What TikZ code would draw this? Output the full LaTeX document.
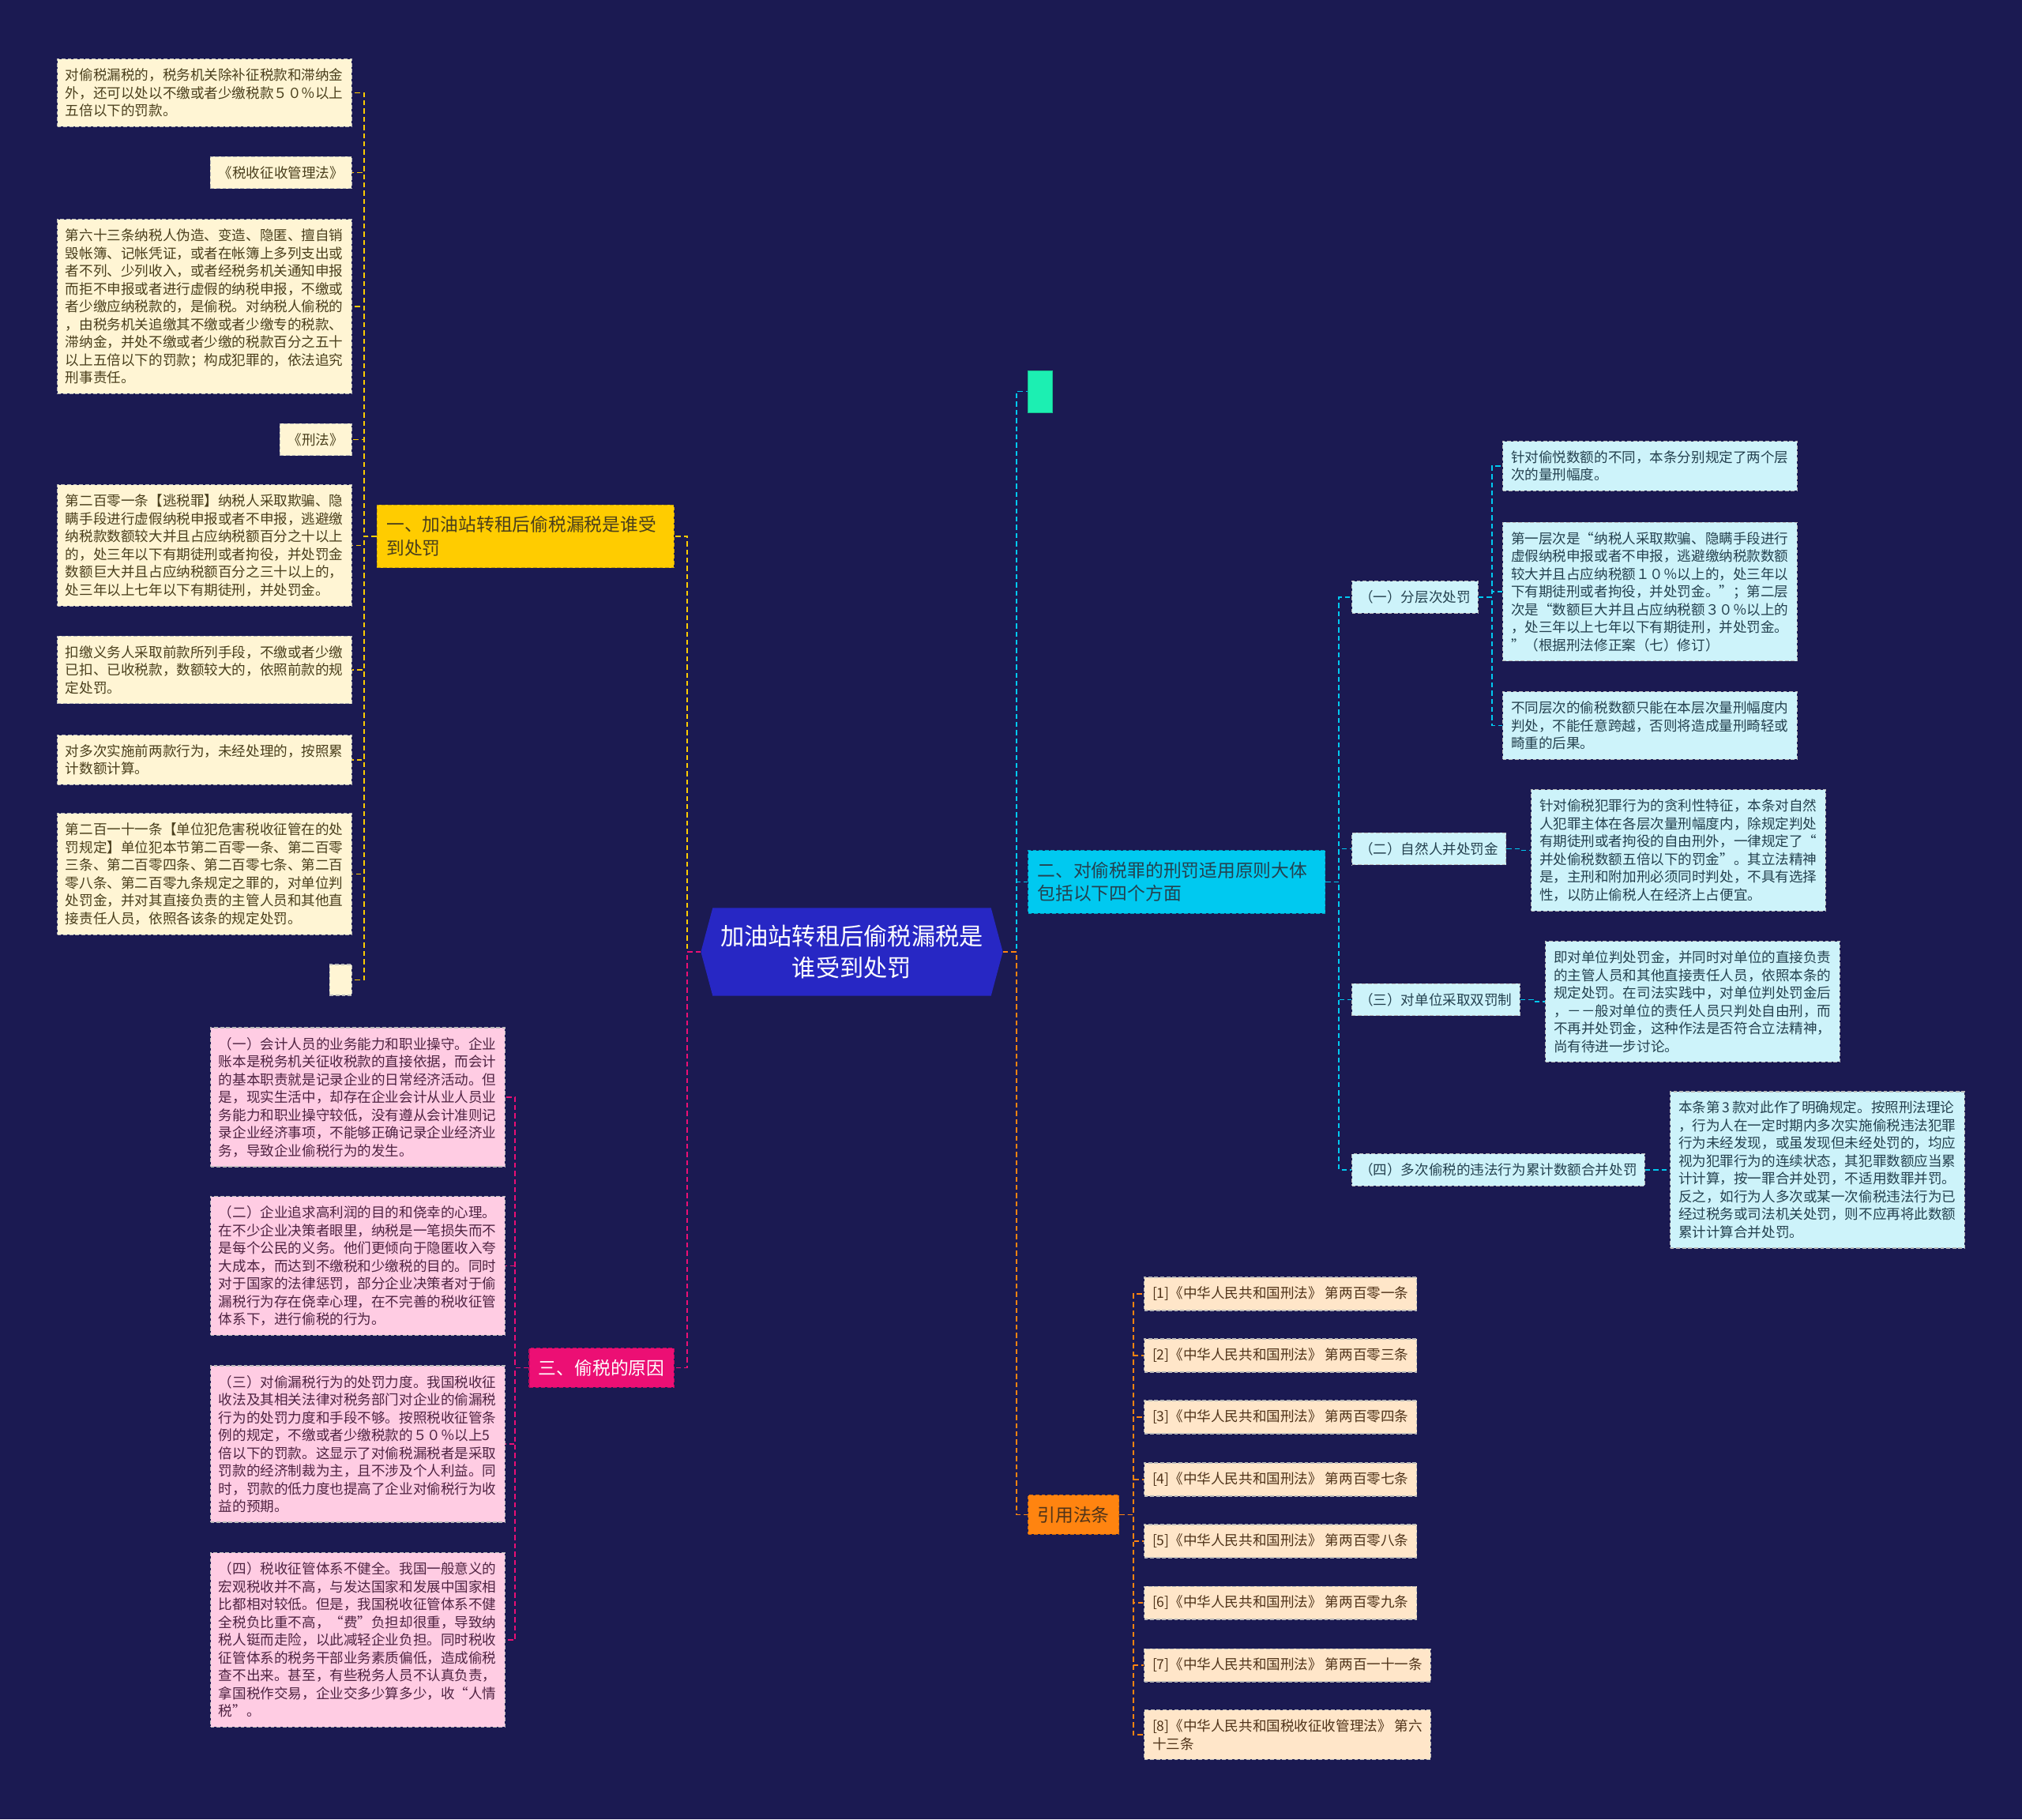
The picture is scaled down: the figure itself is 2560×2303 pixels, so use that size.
\documentclass[tikz,border=0pt]{standalone}
\usepackage{fontspec}
\setmainfont{Noto Sans CJK SC}
\usetikzlibrary{shapes.symbols}
\definecolor{bgnavy}{HTML}{1B1A52}
\definecolor{hubblue}{HTML}{2727C4}
\definecolor{ybranch}{HTML}{FFCC00}
\definecolor{pbranch}{HTML}{EC0F74}
\definecolor{cbranch}{HTML}{00C9F0}
\definecolor{obranch}{HTML}{FF8410}
\definecolor{tealbox}{HTML}{1CEFB2}
\definecolor{yfill}{HTML}{FFF5D4}
\definecolor{ytext}{HTML}{4A3F1C}
\definecolor{pfill}{HTML}{FFCCE3}
\definecolor{ptext}{HTML}{4F2342}
\definecolor{cfill}{HTML}{CDF3FA}
\definecolor{ctext}{HTML}{24414F}
\definecolor{rfill}{HTML}{FFE6C9}
\definecolor{rtext}{HTML}{4F3319}
\begin{document}
\begin{tikzpicture}[
    x=0.25mm, y=-0.25mm,
    every node/.style={font=\fontsize{12.5pt}{16pt}\selectfont},
    leafbox/.style={draw=gray!55, line width=0.3mm, dash pattern=on 1.2mm off 0.7mm, inner xsep=2.6mm, inner ysep=3mm, align=left},
    wide/.style={text width=88mm},
    yleaf/.style={leafbox, fill=yfill, text=ytext, anchor=east},
    pleaf/.style={leafbox, wide, fill=pfill, text=ptext, anchor=east},
    cleaf/.style={leafbox, fill=cfill, text=ctext, anchor=west},
    rleaf/.style={leafbox, fill=rfill, text=rtext, anchor=west},
    branch/.style={draw=#1!80!black, fill=#1, line width=0.3mm, dash pattern=on 1.2mm off 0.7mm, inner xsep=3mm, inner ysep=3.6mm, align=left, font=\fontsize{16.2pt}{21pt}\selectfont},
    hub/.style={signal, signal to=west and east, signal pointer angle=150, fill=hubblue, text=white, align=center, inner xsep=2.5mm, inner ysep=5.3mm, font=\fontsize{21.5pt}{29pt}\selectfont},
    link/.style={draw=#1, line width=0.45mm, dash pattern=on 1.6mm off 1mm}
  ]
  \path[use as bounding box, fill=bgnavy] (0,0) rectangle (2560,2303);

  \node[hub] (hub) at (1078.5,1205) {加油站转租后偷税漏税是\\谁受到处罚};

  % left: branch one
  \node[branch=ybranch, text=ytext, wide, anchor=east] (b1) at (854,679) {一、加油站转租后偷税漏税是谁受\\到处罚};
  \node[yleaf, wide] (l1) at (446,117.5) {对偷税漏税的，税务机关除补征税款和滞纳金\\外，还可以处以不缴或者少缴税款５０％以上\\五倍以下的罚款。};
  \node[yleaf] (l2) at (446,218.5) {《税收征收管理法》};
  \node[yleaf, wide] (l3) at (446,388) {第六十三条纳税人伪造、变造、隐匿、擅自销\\毁帐簿、记帐凭证，或者在帐簿上多列支出或\\者不列、少列收入，或者经税务机关通知申报\\而拒不申报或者进行虚假的纳税申报，不缴或\\者少缴应纳税款的，是偷税。对纳税人偷税的\\，由税务机关追缴其不缴或者少缴专的税款、\\滞纳金，并处不缴或者少缴的税款百分之五十\\以上五倍以下的罚款；构成犯罪的，依法追究\\刑事责任。};
  \node[yleaf] (l4) at (446,556.5) {《刑法》};
  \node[yleaf, wide] (l5) at (446,690.5) {第二百零一条【逃税罪】纳税人采取欺骗、隐\\瞒手段进行虚假纳税申报或者不申报，逃避缴\\纳税款数额较大并且占应纳税额百分之十以上\\的，处三年以下有期徒刑或者拘役，并处罚金\\数额巨大并且占应纳税额百分之三十以上的，\\处三年以上七年以下有期徒刑，并处罚金。};
  \node[yleaf, wide] (l6) at (446,848) {扣缴义务人采取前款所列手段，不缴或者少缴\\已扣、已收税款，数额较大的，依照前款的规\\定处罚。};
  \node[yleaf, wide] (l7) at (446,962) {对多次实施前两款行为，未经处理的，按照累\\计数额计算。};
  \node[yleaf, wide] (l8) at (446,1106.5) {第二百一十一条【单位犯危害税收征管在的处\\罚规定】单位犯本节第二百零一条、第二百零\\三条、第二百零四条、第二百零七条、第二百\\零八条、第二百零九条规定之罪的，对单位判\\处罚金，并对其直接负责的主管人员和其他直\\接责任人员，依照各该条的规定处罚。};
  \node[yleaf, minimum width=7mm, minimum height=9.75mm, inner sep=0pt] (l9) at (446,1240.5) {};

  % left: branch three
  \node[branch=pbranch, text=white, anchor=east] (b3) at (854,1731.5) {三、偷税的原因};
  \node[pleaf] (p1) at (640,1389) {（一）会计人员的业务能力和职业操守。企业\\账本是税务机关征收税款的直接依据，而会计\\的基本职责就是记录企业的日常经济活动。但\\是，现实生活中，却存在企业会计从业人员业\\务能力和职业操守较低，没有遵从会计准则记\\录企业经济事项，不能够正确记录企业经济业\\务，导致企业偷税行为的发生。};
  \node[pleaf] (p2) at (640,1602.5) {（二）企业追求高利润的目的和侥幸的心理。\\在不少企业决策者眼里，纳税是一笔损失而不\\是每个公民的义务。他们更倾向于隐匿收入夸\\大成本，而达到不缴税和少缴税的目的。同时\\对于国家的法律惩罚，部分企业决策者对于偷\\漏税行为存在侥幸心理，在不完善的税收征管\\体系下，进行偷税的行为。};
  \node[pleaf] (p3) at (640,1828) {（三）对偷漏税行为的处罚力度。我国税收征\\收法及其相关法律对税务部门对企业的偷漏税\\行为的处罚力度和手段不够。按照税收征管条\\例的规定，不缴或者少缴税款的５０％以上5\\倍以下的罚款。这显示了对偷税漏税者是采取\\罚款的经济制裁为主，且不涉及个人利益。同\\时，罚款的低力度也提高了企业对偷税行为收\\益的预期。};
  \node[pleaf] (p4) at (640,2076) {（四）税收征管体系不健全。我国一般意义的\\宏观税收并不高，与发达国家和发展中国家相\\比都相对较低。但是，我国税收征管体系不健\\全税负比重不高，“费”负担却很重，导致纳\\税人铤而走险，以此减轻企业负担。同时税收\\征管体系的税务干部业务素质偏低，造成偷税\\查不出来。甚至，有些税务人员不认真负责，\\拿国税作交易，企业交多少算多少，收“人情\\税”。};

  % right: branch two
  \node[draw=tealbox!80!black, fill=tealbox, minimum width=7.75mm, minimum height=13.25mm, inner sep=0pt] (tl) at (1316.5,495.5) {};
  \node[branch=cbranch, text=ctext, wide, anchor=west] (b2) at (1301,1116.5) {二、对偷税罪的刑罚适用原则大体\\包括以下四个方面};
  \node[cleaf, inner xsep=2.4mm] (s1) at (1711,756) {（一）分层次处罚};
  \node[cleaf, inner xsep=2.4mm] (s2) at (1711,1074.5) {（二）自然人并处罚金};
  \node[cleaf, inner xsep=2.4mm] (s3) at (1711,1265.5) {（三）对单位采取双罚制};
  \node[cleaf, inner xsep=2.4mm] (s4) at (1711,1481) {（四）多次偷税的违法行为累计数额合并处罚};
  \node[cleaf, wide] (s1a) at (1902,590) {针对偷悦数额的不同，本条分别规定了两个层\\次的量刑幅度。};
  \node[cleaf, wide] (s1b) at (1902,749) {第一层次是“纳税人采取欺骗、隐瞒手段进行\\虚假纳税申报或者不申报，逃避缴纳税款数额\\较大并且占应纳税额１０％以上的，处三年以\\下有期徒刑或者拘役，并处罚金。”；第二层\\次是“数额巨大并且占应纳税额３０％以上的\\，处三年以上七年以下有期徒刑，并处罚金。\\”（根据刑法修正案（七）修订）};
  \node[cleaf, wide] (s1c) at (1902,918.5) {不同层次的偷税数额只能在本层次量刑幅度内\\判处，不能任意跨越，否则将造成量刑畸轻或\\畸重的后果。};
  \node[cleaf, wide] (s2a) at (1938,1076.5) {针对偷税犯罪行为的贪利性特征，本条对自然\\人犯罪主体在各层次量刑幅度内，除规定判处\\有期徒刑或者拘役的自由刑外，一律规定了“\\并处偷税数额五倍以下的罚金”。其立法精神\\是，主刑和附加刑必须同时判处，不具有选择\\性，以防止偷税人在经济上占便宜。};
  \node[cleaf, wide] (s3a) at (1956,1268) {即对单位判处罚金，并同时对单位的直接负责\\的主管人员和其他直接责任人员，依照本条的\\规定处罚。在司法实践中，对单位判处罚金后\\，－－般对单位的责任人员只判处自由刑，而\\不再并处罚金，这种作法是否符合立法精神，\\尚有待进一步讨论。};
  \node[cleaf, wide] (s4a) at (2114,1481) {本条第\,3\,款对此作了明确规定。按照刑法理论\\，行为人在一定时期内多次实施偷税违法犯罪\\行为未经发现，或虽发现但未经处罚的，均应\\视为犯罪行为的连续状态，其犯罪数额应当累\\计计算，按一罪合并处罚，不适用数罪并罚。\\反之，如行为人多次或某一次偷税违法行为已\\经过税务或司法机关处罚，则不应再将此数额\\累计计算合并处罚。};

  % right: branch four
  \node[branch=obranch, text=rtext, anchor=west] (b4) at (1301,1917.5) {引用法条};
  \foreach \i/\yy/\art in {1/1638/第两百零一条, 2/1716/第两百零三条, 3/1794/第两百零四条, 4/1873/第两百零七条, 5/1951/第两百零八条, 6/2029/第两百零九条, 7/2108/第两百一十一条}
    \node[rleaf] (c\i) at (1448,\yy) {[\i]《中华人民共和国刑法》 \art};
  \node[rleaf] (c8) at (1448,2196) {[8]《中华人民共和国税收征收管理法》 第六\\十三条};

  \foreach \n in {1,...,9} \draw[link=ybranch] (b1.west) -- ++(-16,0) |- (l\n.east);
  \draw[link=ybranch] (hub.west) -- ++(-17,0) |- (b1.east);
  \foreach \n in {1,...,4} \draw[link=pbranch] (b3.west) -- ++(-17,0) |- (p\n.east);
  \draw[link=pbranch] (hub.west) -- ++(-17,0) |- (b3.east);
  \draw[link=cbranch] (hub.east) -- ++(17,0) |- (tl.west);
  \draw[link=cbranch] (hub.east) -- ++(17,0) |- (b2.west);
  \foreach \n in {1,...,4} \draw[link=cbranch] (b2.east) -- ++(17,0) |- (s\n.west);
  \foreach \n in {a,b,c} \draw[link=cbranch] (s1.east) -- ++(17,0) |- (s1\n.west);
  \draw[link=cbranch] (s2.east) -- ++(17,0) |- (s2a.west);
  \draw[link=cbranch] (s3.east) -- ++(17,0) |- (s3a.west);
  \draw[link=cbranch] (s4.east) -- ++(15,0) |- (s4a.west);
  \foreach \n in {1,...,8} \draw[link=obranch] (b4.east) -- ++(18,0) |- (c\n.west);
  \draw[link=obranch] (hub.east) -- ++(17,0) |- (b4.west);
\end{tikzpicture}
\end{document}
